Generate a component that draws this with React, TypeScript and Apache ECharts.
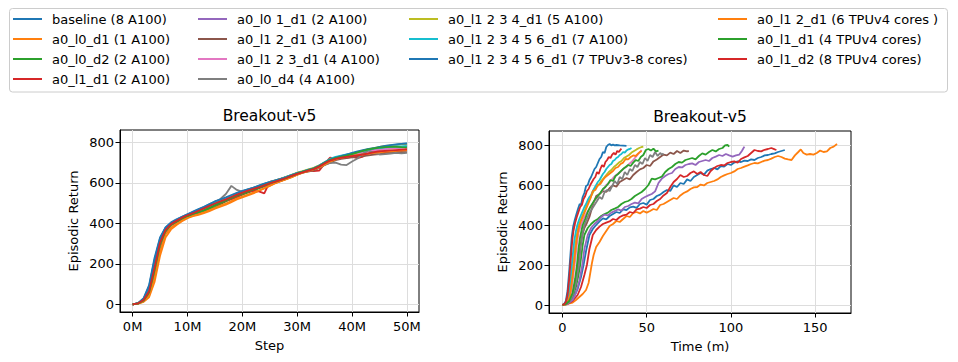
import React, { useEffect, useRef } from 'react';
import * as echarts from 'echarts';

const FONT = 'DejaVu Sans, Verdana, sans-serif';

const seriesNames = [
  'baseline (8 A100)',
  'a0_l0_d1 (1 A100)',
  'a0_l0_d2 (2 A100)',
  'a0_l1_d1 (2 A100)',
  'a0_l0 1_d1 (2 A100)',
  'a0_l1 2_d1 (3 A100)',
  'a0_l1 2 3_d1 (4 A100)',
  'a0_l0_d4 (4 A100)',
  'a0_l1 2 3 4_d1 (5 A100)',
  'a0_l1 2 3 4 5 6_d1 (7 A100)',
  'a0_l1 2 3 4 5 6_d1 (7 TPUv3-8 cores)',
  'a0_l1 2_d1 (6 TPUv4 cores )',
  'a0_l1_d1 (4 TPUv4 cores)',
  'a0_l1_d2 (8 TPUv4 cores)',
];

const seriesColors = [
  '#1f77b4', '#ff7f0e', '#2ca02c', '#d62728', '#9467bd', '#8c564b', '#e377c2',
  '#7f7f7f', '#bcbd22', '#17becf', '#1f77b4', '#ff7f0e', '#2ca02c', '#d62728',
];

const legendColumns = [
  [0, 1, 2, 3],
  [4, 5, 6, 7],
  [8, 9, 10],
  [11, 12, 13],
];

const yTicks = [0, 200, 400, 600, 800];
const stepTicks = [0, 10, 20, 30, 40, 50];
const timeTicks = [0, 50, 100, 150];

// Environment steps (millions)
const stepsM = [
  0, 1, 2, 3, 4, 5, 6, 7, 8, 9, 10, 11, 12, 13, 14, 15, 16, 17, 18, 19, 20, 21, 22, 23, 24, 25,
  26, 27, 28, 29, 30, 31, 32, 33, 34, 35, 36, 37, 38, 39, 40, 41, 42, 43, 44, 45, 46, 47, 48, 49, 50,
];

// Episodic return vs step (left panel)
const L_baseline = [0,6,30,95,230,330,380,405,420,432,445,458,470,482,495,508,515,525,535,548,558,568,575,585,595,605,612,620,630,640,648,655,662,670,680,698,712,722,728,735,742,750,758,765,770,775,780,784,788,792,795];
const L_l0d1 = [0,3,12,35,110,240,330,370,392,410,425,435,442,450,460,472,482,492,505,518,528,538,548,560,572,585,598,608,618,628,640,650,658,668,678,690,705,718,728,732,738,740,742,745,748,752,755,757,760,758,760];
const L_l0d2 = [0,4,18,55,170,300,365,395,410,425,437,445,450,458,470,482,495,508,520,530,542,552,562,572,582,592,602,612,622,632,645,652,660,668,680,695,710,720,725,730,738,745,755,762,768,770,772,775,776,775,776];
const L_l1d1 = [0,5,22,70,190,310,370,398,412,428,442,452,462,470,478,490,500,512,520,530,545,556,560,558,548,605,610,620,628,635,645,655,662,658,660,695,725,720,722,725,728,722,730,745,750,752,748,752,756,760,765];
const L_l01d1 = [0,5,20,62,175,300,368,398,414,428,440,450,460,472,484,498,508,518,530,542,552,562,570,580,590,598,606,614,624,635,648,655,662,672,685,702,712,718,722,728,735,742,748,755,760,765,768,770,772,775,778];
const L_l12d1 = [0,4,16,50,150,280,355,390,405,420,432,445,455,466,478,490,502,512,524,536,548,556,566,576,584,594,600,610,620,630,640,650,656,662,672,688,700,712,718,722,726,730,732,736,740,742,745,748,750,752,752];
const L_l123d1 = [0,5,22,65,180,305,370,400,415,430,442,452,462,474,486,500,510,520,532,545,555,565,574,582,592,602,610,618,628,638,648,656,664,672,684,700,712,720,726,732,738,744,750,756,760,764,768,770,772,774,776];
const L_l0d4 = [0,4,18,58,165,295,362,393,410,426,440,452,464,476,490,505,520,545,585,565,555,565,572,580,590,600,608,615,622,632,645,652,660,668,676,688,698,700,690,688,705,720,745,760,748,740,742,745,748,746,748];
const L_l1234d1 = [0,5,20,62,172,300,366,396,412,428,441,452,462,474,486,500,512,522,534,546,556,566,574,584,594,603,612,620,630,640,650,658,666,674,686,702,716,726,732,738,745,752,760,766,772,778,782,785,788,790,790];
const L_l123456d1 = [0,5,24,70,195,315,372,400,414,428,440,452,462,474,487,500,510,520,532,544,554,564,572,582,592,601,610,618,628,638,648,656,664,672,684,702,718,728,734,740,746,752,758,764,770,772,775,778,780,780,782];
const L_tpuv3 = [0,6,28,88,220,325,378,402,418,432,445,456,468,480,494,508,518,528,540,550,560,568,576,586,596,604,612,620,628,638,648,655,664,672,684,700,715,725,732,740,748,755,762,768,772,778,782,786,790,792,794];
const L_tpuv4_l12d1 = [0,3,14,42,130,260,345,380,398,414,428,438,446,455,465,476,488,498,510,522,532,542,552,562,574,586,598,608,618,628,640,650,658,666,676,690,705,716,724,728,734,738,740,744,748,750,754,756,758,760,762];
const L_tpuv4_l1d1 = [0,4,19,58,168,296,362,393,408,424,436,446,455,464,476,490,502,514,526,538,548,558,568,578,588,598,606,614,624,634,645,654,662,670,682,698,712,722,728,734,742,750,758,765,770,774,776,778,778,776,775];
const L_tpuv4_l1d2 = [0,5,21,64,182,305,368,396,412,428,440,450,462,474,486,498,508,518,530,542,552,562,570,578,588,598,606,615,624,634,644,652,660,668,680,696,710,718,724,728,732,736,740,745,752,756,758,760,762,764,766];

// [minutes, episodic return] (right panel)
const R_baseline = [[0,0],[3,8],[6,30],[9,80],[11,140],[12.5,200],[14,270],[16,350],[18,380],[20,400],[22,418],[24,433],[26,428],[28,445],[30,455],[32,465],[34,460],[36,478],[38,475],[40,488],[42,492],[44,486],[46,505],[48,510],[50,502],[52,525],[54,530],[56,545],[58,552],[60,565],[62,575],[64,570],[66,598],[68,590],[70,610],[72,605],[74,628],[76,620],[78,640],[80,650],[82,660],[84,652],[86,672],[88,680],[90,685],[92,678],[94,695],[96,692],[98,705],[100,700],[102,712],[104,718],[106,715],[108,722],[110,720],[112,728],[114,725],[116,735],[118,740],[120,748],[122,750],[124,755],[126,758],[128,765],[130,770],[132,775]];
const R_l0d1 = [[0,0],[3,5],[6,12],[8,25],[10,40],[12,55],[14,75],[15.5,110],[16.5,160],[17.5,210],[18.5,250],[20,290],[22,315],[24,345],[26,370],[28,395],[30,405],[32,420],[34,415],[36,430],[38,445],[40,440],[42,460],[44,465],[46,458],[48,470],[50,462],[52,470],[54,480],[56,475],[58,500],[60,505],[62,515],[64,525],[66,535],[68,530],[70,548],[72,560],[74,568],[76,580],[78,588],[80,590],[82,602],[84,598],[86,610],[88,615],[90,620],[92,628],[94,640],[96,648],[98,655],[100,660],[102,668],[104,680],[106,685],[108,692],[110,698],[112,705],[114,710],[116,708],[118,715],[120,722],[122,725],[124,732],[126,740],[128,745],[130,740],[132,732],[134,728],[136,725],[138,748],[140,765],[141.5,778],[143,760],[145,752],[147,755],[149,752],[151,760],[153,772],[155,765],[157,768],[159,785],[161,792],[163,805]];
const R_l0d2 = [[0,0],[2,4],[4,15],[6,40],[8,90],[9.5,150],[10.5,200],[12,300],[13,350],[15,385],[17,405],[19,420],[21,430],[23,445],[25,455],[27,462],[29,475],[31,482],[33,490],[35,505],[37,515],[39,520],[41,530],[43,545],[45,555],[47,565],[49,580],[51,600],[53,632],[55,628],[57,635],[59,642],[61,665],[63,680],[65,690],[67,705],[69,715],[71,712],[73,725],[75,730],[77,735],[79,728],[81,745],[83,758],[85,752],[87,765],[89,775],[91,768],[93,780],[95,785],[96.5,798],[98,800],[99,792]];
const R_l1d1 = [[0,0],[3,5],[6,20],[9,50],[11,90],[13,150],[14.5,200],[16,280],[18,350],[20,375],[22,392],[24,405],[26,412],[28,418],[30,430],[32,425],[34,440],[36,448],[38,452],[40,465],[42,460],[44,478],[46,482],[48,490],[50,485],[52,500],[54,505],[56,520],[58,530],[60,548],[62,560],[64,590],[66,615],[68,630],[70,650],[72,640],[74,645],[76,660],[78,668],[80,655],[82,665],[84,650],[86,645],[88,670],[90,685],[92,695],[94,700],[96,698],[98,710],[100,715],[102,718],[104,712],[106,730],[108,738],[110,745],[112,760],[114,775],[116,770],[118,768],[120,776],[122,780],[124,785],[126,778],[127,775]];
const R_l01d1 = [[0,0],[3,6],[6,25],[8,60],[10,120],[11.8,200],[13,280],[15,350],[17,385],[19,405],[21,420],[23,440],[25,452],[27,448],[29,462],[31,470],[33,478],[35,472],[37,490],[39,495],[41,505],[43,512],[45,508],[47,530],[49,540],[51,548],[53,555],[55,568],[57,610],[59,632],[61,645],[63,655],[65,660],[67,680],[69,690],[71,688],[73,700],[75,705],[77,708],[79,700],[81,715],[83,720],[85,725],[87,720],[89,735],[91,742],[93,750],[95,745],[97,755],[99,748],[101,742],[103,748],[105,752],[106.5,770],[108,792]];
const R_l12d1 = [[0,0],[2,5],[4,20],[6,55],[8,130],[9.2,200],[10.5,290],[11.8,350],[13,385],[14.5,410],[16,440],[18,500],[20,545],[22,555],[24,570],[26,565],[28,585],[30,598],[32,592],[34,615],[36,625],[38,635],[40,628],[42,650],[44,665],[46,678],[48,685],[50,700],[52,695],[54,718],[56,728],[58,740],[60,752],[62,748],[64,762],[66,755],[68,770],[70,760],[72,772],[74,768],[75,770]];
const R_l123d1 = [[0,0],[2,5],[4,25],[5.5,80],[6.5,150],[7.5,220],[8.5,300],[9.5,360],[11,400],[12.5,430],[14,455],[15.5,475],[17,495],[18.5,515],[20,530],[21.5,550],[23,565],[24.5,580],[26,600],[27.5,610],[29,625],[30.5,640],[32,650],[33.5,660],[35,670],[36.5,685],[38,690],[39.5,705],[41,715],[42.5,730],[44,745],[45.5,760],[47,775]];
const R_l0d4 = [[0,0],[2,4],[4,15],[6,45],[8,110],[9.8,200],[11,300],[12,360],[13,400],[14.5,430],[16,460],[17.5,480],[19,500],[20.5,520],[22,540],[23.5,530],[25,565],[26.5,575],[28,570],[29.8,600],[31,620],[32.5,605],[34,640],[35.5,630],[37,665],[38.5,650],[40,680],[41.5,670],[43,700],[44.5,690],[46,715],[47.5,705],[49,735],[50.5,720],[52,750],[53.5,740],[55,765],[56.5,745],[58,760],[59,752],[60,758]];
const R_l1234d1 = [[0,0],[1.5,3],[3,18],[4.5,60],[5.5,130],[6.5,210],[7.5,290],[8.5,350],[9.5,395],[11,430],[12.5,460],[14,490],[15.5,520],[17,545],[18.5,570],[20,590],[21.5,600],[23,620],[24.5,635],[26,650],[27.5,665],[29,675],[30.5,690],[32,700],[33.5,712],[35,720],[36.5,735],[38,742],[39.5,750],[41,762],[42.5,770],[44,778],[45.5,785],[47,790],[48,792]];
const R_l123456d1 = [[0,0],[1.5,4],[3,25],[4,70],[5,150],[6,240],[7,320],[8,370],[9,405],[10,430],[11,450],[12,470],[13,490],[14,505],[15,525],[16,540],[17,550],[18,570],[19,585],[20,600],[21,615],[22,625],[23,640],[24,655],[25,665],[26,680],[27,690],[28,700],[29,705],[30,720],[31,725],[32,735],[33,740],[34,750],[35,755],[36,765],[37,762],[38,772],[39,778],[40,780],[41,785]];
const R_tpuv3 = [[0,0],[1,5],[2,20],[3,70],[4,170],[4.8,260],[5.5,340],[6.3,390],[7.3,425],[8.3,455],[9.2,480],[10.2,505],[11,500],[12,540],[13,560],[14,595],[15,600],[16,625],[17,640],[18,660],[19,680],[20,690],[21,710],[22,730],[23,740],[24,765],[25,760],[26,790],[27,800],[28,805],[29,798],[30,802],[31,798],[32,800],[34,798],[36,797],[38,796]];
const R_tpuv4_l12d1 = [[0,0],[1.5,3],[3,15],[4.5,50],[5.5,110],[6.5,180],[7.5,260],[8.5,330],[9.5,380],[10.5,410],[12,440],[13.5,470],[15,500],[16.5,530],[18,570],[19.5,575],[21,600],[22.5,605],[24,625],[25.5,640],[27,650],[28.5,660],[30,670],[31.5,685],[33,690],[34.5,705],[36,712],[37.5,730],[39,728],[40.5,740],[42,748],[43.5,745],[45,758],[46,765],[47,770]];
const R_tpuv4_l1d1 = [[0,0],[2,5],[4,20],[6,60],[7.5,130],[8.6,200],[9.5,280],[10.5,340],[12,400],[13.5,430],[15,465],[16.5,490],[18,510],[19.5,530],[21,545],[22.5,560],[24,580],[25.5,590],[27,605],[28.5,625],[30,620],[31.5,645],[33,655],[34.5,668],[36,680],[37.5,690],[39,700],[40.5,695],[42,712],[43.5,725],[45,720],[46.5,740],[48,750],[49.5,775],[51,780],[52.5,772],[54,782],[55.5,768],[57,772]];
const R_tpuv4_l1d2 = [[0,0],[1,4],[2,15],[3,50],[4,130],[5,240],[5.8,320],[6.5,370],[7.5,410],[8.5,440],[9.5,465],[10.5,490],[11.5,500],[12.5,530],[13.5,545],[14.5,570],[15.5,580],[16.5,600],[17.5,615],[18.5,630],[19.5,640],[20.5,665],[21.5,655],[22.5,680],[23.5,700],[24.5,690],[25.5,715],[26.5,725],[27.5,740],[28.5,735],[29.5,752],[30.5,760],[31.5,752],[32.5,770],[33.5,765],[34.3,775],[35,782]];

const leftSets = [L_baseline, L_l0d1, L_l0d2, L_l1d1, L_l01d1, L_l12d1, L_l123d1, L_l0d4, L_l1234d1, L_l123456d1, L_tpuv3, L_tpuv4_l12d1, L_tpuv4_l1d1, L_tpuv4_l1d2];
const rightSets = [R_baseline, R_l0d1, R_l0d2, R_l1d1, R_l01d1, R_l12d1, R_l123d1, R_l0d4, R_l1234d1, R_l123456d1, R_tpuv3, R_tpuv4_l12d1, R_tpuv4_l1d1, R_tpuv4_l1d2];

const titleText = 'Breakout-v5';

function axisCommon() {
  return {
    axisLine: { show: true, onZero: false, lineStyle: { color: '#000', width: 1 } },
    axisTick: { show: true, length: 4.5, lineStyle: { color: '#000', width: 1 } },
    splitLine: { show: true, lineStyle: { color: '#dddddd', width: 1 } },
    nameTextStyle: { fontFamily: FONT, fontSize: 13, color: '#000' },
  };
}

export default function App() {
  const ref = useRef<HTMLDivElement>(null);
  useEffect(() => {
    document.body.style.margin = '0';
    if (!ref.current) return;
    const chart = echarts.init(ref.current, null, { renderer: 'svg' });
    const series: any[] = [];
    seriesNames.forEach((name, i) => {
      series.push({
        type: 'line', name, xAxisIndex: 0, yAxisIndex: 0,
        data: stepsM.map((s, j) => [s, leftSets[i][j]]),
        showSymbol: false, symbol: 'none',
        lineStyle: { width: 1.8, color: seriesColors[i] },
        itemStyle: { color: seriesColors[i] },
        emphasis: { disabled: true },
      });
    });
    seriesNames.forEach((name, i) => {
      series.push({
        type: 'line', name, xAxisIndex: 1, yAxisIndex: 1,
        data: rightSets[i],
        showSymbol: false, symbol: 'none',
        lineStyle: { width: 1.8, color: seriesColors[i] },
        itemStyle: { color: seriesColors[i] },
        emphasis: { disabled: true },
      });
    });
    const legendLefts = [13, 198, 409, 718];
    const legends = legendColumns.map((col, ci) => ({
      orient: 'vertical',
      left: legendLefts[ci],
      top: 9,
      padding: 0,
      itemGap: 0,
      itemWidth: 29,
      itemHeight: 2,
      icon: 'rect',
      data: col.map((k) => seriesNames[k]),
      textStyle: { fontFamily: FONT, fontSize: 13, color: '#000', lineHeight: 20, padding: [0, 0, 0, 5] },
    }));
    const ax = axisCommon();
    chart.setOption({
      animation: false,
      backgroundColor: '#fff',
      textStyle: { fontFamily: FONT },
      title: [
        { text: titleText, left: 269.5, top: 108, textAlign: 'center', padding: 0, textStyle: { fontFamily: FONT, fontSize: 15.5, fontWeight: 'normal', color: '#000' } },
        { text: titleText, left: 700, top: 109, textAlign: 'center', padding: 0, textStyle: { fontFamily: FONT, fontSize: 15.5, fontWeight: 'normal', color: '#000' } },
      ],
      legend: legends,
      graphic: [
        { type: 'rect', z: -1, silent: true, shape: { x: 9.5, y: 8.5, width: 938, height: 83.5, r: 3 }, style: { fill: '#fff', stroke: '#cccccc', lineWidth: 1 } },
      ],
      grid: [
        { left: 120, top: 130, width: 299, height: 182, show: true, borderColor: '#000', borderWidth: 1, backgroundColor: 'transparent' },
        { left: 549, top: 131, width: 302, height: 182, show: true, borderColor: '#000', borderWidth: 1, backgroundColor: 'transparent' },
      ],
      xAxis: [
        {
          ...ax, type: 'value', gridIndex: 0, min: -2.3, max: 52.2,
          name: 'Step', nameLocation: 'middle', nameGap: 27,
          axisTick: { ...ax.axisTick, customValues: stepTicks },
          axisLabel: { customValues: stepTicks, formatter: (v: number) => `${v}M`, fontFamily: FONT, fontSize: 13, color: '#000', margin: 8 },
        },
        {
          ...ax, type: 'value', gridIndex: 1, min: -8, max: 171.3,
          name: 'Time (m)', nameLocation: 'middle', nameGap: 27,
          axisTick: { ...ax.axisTick, customValues: timeTicks },
          axisLabel: { customValues: timeTicks, fontFamily: FONT, fontSize: 13, color: '#000', margin: 8 },
        },
      ],
      yAxis: [
        {
          ...ax, type: 'value', gridIndex: 0, min: -38, max: 861,
          name: 'Episodic Return', nameLocation: 'middle', nameGap: 40,
          axisTick: { ...ax.axisTick, customValues: yTicks },
          axisLabel: { customValues: yTicks, fontFamily: FONT, fontSize: 13, color: '#000', margin: 6 },
        },
        {
          ...ax, type: 'value', gridIndex: 1, min: -40, max: 870,
          name: 'Episodic Return', nameLocation: 'middle', nameGap: 40,
          axisTick: { ...ax.axisTick, customValues: yTicks },
          axisLabel: { customValues: yTicks, fontFamily: FONT, fontSize: 13, color: '#000', margin: 6 },
        },
      ],
      series,
    });
    return () => chart.dispose();
  }, []);
  return <div ref={ref} style={{ position: 'absolute', left: 0, top: 0, width: 958, height: 362 }} />;
}
